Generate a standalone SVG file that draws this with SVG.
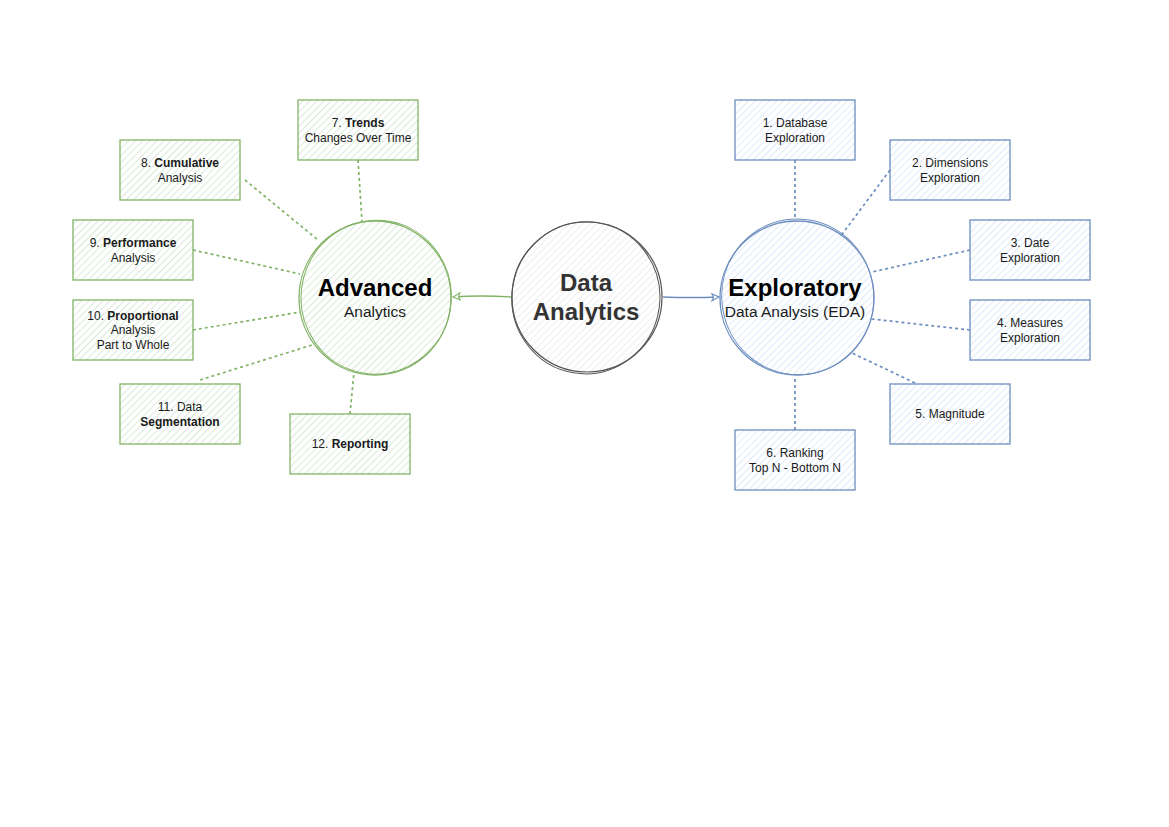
<svg xmlns="http://www.w3.org/2000/svg" width="1169" height="827" viewBox="0 0 1169 827">
<defs>
<pattern id="hg" width="5" height="5" patternUnits="userSpaceOnUse" patternTransform="rotate(45)"><line x1="0" y1="0" x2="0" y2="5" stroke="#d5e8d4" stroke-width="1.8"/></pattern>
<pattern id="hb" width="5" height="5" patternUnits="userSpaceOnUse" patternTransform="rotate(45)"><line x1="0" y1="0" x2="0" y2="5" stroke="#dae8fc" stroke-width="1.8"/></pattern>
<pattern id="hc" width="5" height="5" patternUnits="userSpaceOnUse" patternTransform="rotate(45)"><line x1="0" y1="0" x2="0" y2="5" stroke="#e8e8e8" stroke-width="1.5"/></pattern>
<marker id="ag" viewBox="0 0 10 10" refX="9" refY="5" markerWidth="9" markerHeight="9" orient="auto" markerUnits="userSpaceOnUse"><path d="M1,1 L9,5 L1,9 L3,5 Z" fill="#fff" stroke="#82b366" stroke-width="1.2"/></marker>
<marker id="ab" viewBox="0 0 10 10" refX="9" refY="5" markerWidth="9" markerHeight="9" orient="auto" markerUnits="userSpaceOnUse"><path d="M1,1 L9,5 L1,9 L3,5 Z" fill="#fff" stroke="#6c8ebf" stroke-width="1.2"/></marker>
</defs>
<style>
text{font-family:"Liberation Sans",Arial,sans-serif;fill:#1a1a1a;text-anchor:middle}
.bx{font-size:12px}
.g rect{fill:url(#hg);stroke:#82b366;stroke-width:1.3}
.b rect{fill:url(#hb);stroke:#6c8ebf;stroke-width:1.3}
.cg{fill:url(#hg);stroke:#82b366;stroke-width:1.3}
.cb{fill:url(#hb);stroke:#6c8ebf;stroke-width:1.3}
.cc{fill:url(#hc);stroke:#555;stroke-width:1.2}
.o{fill:none;stroke-width:1}
.dg{stroke:#82b366;stroke-width:1.7;stroke-dasharray:3 3;fill:none}
.db{stroke:#6c8ebf;stroke-width:1.7;stroke-dasharray:3 3;fill:none}
.big{font-size:24px;font-weight:bold}
.sub{font-size:15.5px}
</style>
<rect width="1169" height="827" fill="#fff"/>
<g id="connectors">
<path class="dg" d="M358,160 L362,221"/>
<path class="dg" d="M245,180 L318,240"/>
<path class="dg" d="M193,250 L300,274"/>
<path class="dg" d="M193,330 L300,312"/>
<path class="dg" d="M200,380 L312,345"/>
<path class="dg" d="M350,414 L354,372"/>
<path class="db" d="M795,160 L795,220"/>
<path class="db" d="M890,170 L840,237"/>
<path class="db" d="M970,250 L872,272"/>
<path class="db" d="M970,330 L872,319"/>
<path class="db" d="M915,383 L852,353"/>
<path class="db" d="M795,430 L795,376"/>
<path d="M511,297 Q480,295 453,297" fill="none" stroke="#82b366" stroke-width="1.3" marker-end="url(#ag)"/>
<path d="M663,297 Q690,298 719,297" fill="none" stroke="#6c8ebf" stroke-width="1.3" marker-end="url(#ab)"/>
</g>
<g id="data-analytics">
<ellipse class="cc" cx="587" cy="297" rx="75" ry="75"/>
<ellipse class="o" stroke="#555" cx="586" cy="298" rx="74" ry="76" transform="rotate(8 587 297)"/>
<text class="big" x="586" y="291" style="fill:#333">Data</text>
<text class="big" x="586" y="320" style="fill:#333">Analytics</text>
</g>
<g id="advanced">
<ellipse class="cg" cx="375" cy="298" rx="76" ry="77"/>
<ellipse class="o" stroke="#82b366" cx="376" cy="297" rx="75" ry="77" transform="rotate(10 375 298)"/>
<text class="big" x="375" y="296" style="fill:#000">Advanced</text>
<text class="sub" x="375" y="317">Analytics</text>
</g>
<g id="exploratory">
<ellipse class="cb" cx="797" cy="298" rx="77" ry="77"/>
<ellipse class="o" stroke="#6c8ebf" cx="798" cy="297" rx="76" ry="78" transform="rotate(-10 797 298)"/>
<text class="big" x="795" y="296" style="fill:#000">Exploratory</text>
<text class="sub" x="795" y="317">Data Analysis (EDA)</text>
</g>
<g id="n7" class="g"><rect x="298" y="100" width="120" height="60"/><text class="bx" x="358" y="127">7. <tspan font-weight="bold">Trends</tspan></text><text class="bx" x="358" y="142">Changes Over Time</text></g>
<g id="n8" class="g"><rect x="120" y="140" width="120" height="60"/><text class="bx" x="180" y="167">8. <tspan font-weight="bold">Cumulative</tspan></text><text class="bx" x="180" y="182">Analysis</text></g>
<g id="n9" class="g"><rect x="73" y="220" width="120" height="60"/><text class="bx" x="133" y="247">9. <tspan font-weight="bold">Performance</tspan></text><text class="bx" x="133" y="262">Analysis</text></g>
<g id="n10" class="g"><rect x="73" y="300" width="120" height="60"/><text class="bx" x="133" y="320">10. <tspan font-weight="bold">Proportional</tspan></text><text class="bx" x="133" y="334">Analysis</text><text class="bx" x="133" y="349">Part to Whole</text></g>
<g id="n11" class="g"><rect x="120" y="384" width="120" height="60"/><text class="bx" x="180" y="411">11. Data</text><text class="bx" x="180" y="426" font-weight="bold">Segmentation</text></g>
<g id="n12" class="g"><rect x="290" y="414" width="120" height="60"/><text class="bx" x="350" y="448">12. <tspan font-weight="bold">Reporting</tspan></text></g>
<g id="n1" class="b"><rect x="735" y="100" width="120" height="60"/><text class="bx" x="795" y="127">1. Database</text><text class="bx" x="795" y="142">Exploration</text></g>
<g id="n2" class="b"><rect x="890" y="140" width="120" height="60"/><text class="bx" x="950" y="167">2. Dimensions</text><text class="bx" x="950" y="182">Exploration</text></g>
<g id="n3" class="b"><rect x="970" y="220" width="120" height="60"/><text class="bx" x="1030" y="247">3. Date</text><text class="bx" x="1030" y="262">Exploration</text></g>
<g id="n4" class="b"><rect x="970" y="300" width="120" height="60"/><text class="bx" x="1030" y="327">4. Measures</text><text class="bx" x="1030" y="342">Exploration</text></g>
<g id="n5" class="b"><rect x="890" y="384" width="120" height="60"/><text class="bx" x="950" y="418">5. Magnitude</text></g>
<g id="n6" class="b"><rect x="735" y="430" width="120" height="60"/><text class="bx" x="795" y="457">6. Ranking</text><text class="bx" x="795" y="472">Top N - Bottom N</text></g>
</svg>
